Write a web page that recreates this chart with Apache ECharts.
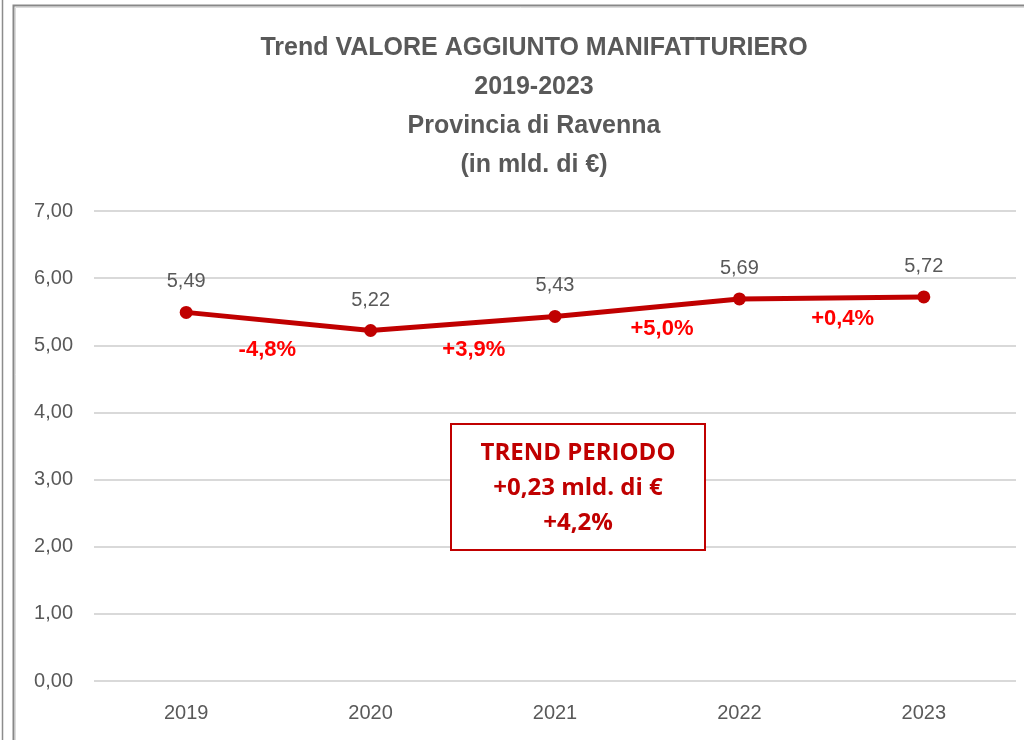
<!DOCTYPE html>
<html><head><meta charset="utf-8">
<script src="https://cdn.jsdelivr.net/npm/echarts@6/dist/echarts.min.js"></script>
<style>html,body{margin:0;padding:0;background:#fff}#c{width:1024px;height:740px}</style>
</head><body><div id="c"></div>
<script>
const categories = ['2019','2020','2021','2022','2023'];
const values = [5.49, 5.22, 5.43, 5.69, 5.72];
const yTicks = [0,1,2,3,4,5,6,7];
const changeLabels = ['-4,8%','+3,9%','+5,0%','+0,4%'];
const changeX = [0.44, 1.56, 2.58, 3.56];
const changeY = [4.93, 4.93, 5.24, 5.39];
const titleLines = ['Trend VALORE AGGIUNTO MANIFATTURIERO','2019-2023','Provincia di Ravenna','(in mld. di €)'];
const boxLines = ['TREND PERIODO','+0,23 mld. di €','+4,2%'];

const chart = echarts.init(document.getElementById('c'));
const fmt = v => v.toFixed(2).replace('.', ',');
chart.setOption({
  animation: false,
  backgroundColor: '#fff',
  title: {
    text: titleLines.join('\n'), left: 529, top: 24, textAlign: 'center',
    textStyle: { fontFamily: '"Liberation Sans", Arial, sans-serif', fontSize: 25, fontWeight: 'bold', color: '#595959', lineHeight: 39 }
  },
  grid: { left: 94, right: 8, top: 211, bottom: 59 },
  xAxis: [{
    type: 'category', data: categories, boundaryGap: true,
    axisLine: { show: false }, axisTick: { show: false },
    axisLabel: { color: '#595959', fontSize: 20, fontFamily: '"Liberation Sans", Arial, sans-serif', margin: 22 }
  }, {
    type: 'value', min: -0.5, max: 4.5, show: false
  }],
  yAxis: {
    type: 'value', min: 0, max: 7, interval: 1,
    axisLine: { show: false }, axisTick: { show: false },
    axisLabel: { color: '#595959', fontSize: 20, fontFamily: '"Liberation Sans", Arial, sans-serif', margin: 21, formatter: v => fmt(v) },
    splitLine: { lineStyle: { color: '#d9d9d9', width: 2 } }
  },
  series: [{
    type: 'line', data: values, xAxisIndex: 0,
    lineStyle: { color: '#C00000', width: 5 },
    itemStyle: { color: '#C00000' },
    symbol: 'circle', symbolSize: 13,
    label: { show: true, position: 'top', distance: 14, color: '#595959', fontSize: 20, fontFamily: '"Liberation Sans", Arial, sans-serif', formatter: p => fmt(p.value) }
  }, {
    type: 'scatter', xAxisIndex: 1, symbolSize: 0,
    itemStyle: { opacity: 1 },
    data: changeX.map((x, i) => ({ value: [x, changeY[i]], name: changeLabels[i] })),
    label: { show: true, position: 'inside', opacity: 1, color: '#FF0000', fontSize: 22, fontWeight: 'bold', fontFamily: '"Liberation Sans", Arial, sans-serif', formatter: p => p.name }
  }],
  graphic: [
    { type: 'line', z: 100, shape: { x1: 2.5, y1: 0, x2: 2.5, y2: 740 }, style: { stroke: '#8c8c8c', lineWidth: 1.5 } },
    { type: 'rect', z: 100, shape: { x: 13.5, y: 5.5, width: 1100, height: 800 }, style: { fill: 'none', stroke: '#888', lineWidth: 2 } },
    { type: 'rect', z: 100, shape: { x: 15.5, y: 7.5, width: 1100, height: 800 }, style: { fill: 'none', stroke: '#dcdcdc', lineWidth: 1 } },
    { type: 'rect', z: 100, shape: { x: 451, y: 424, width: 254, height: 126 }, style: { fill: '#fff', stroke: '#C00000', lineWidth: 2 } },
    { type: 'text', z: 101, x: 578, y: 436, style: { text: boxLines.join('\n'), textAlign: 'center', fill: '#C00000', font: 'bold 24px "Open Sans", sans-serif', lineHeight: 35 } }
  ]
});
</script></body></html>
